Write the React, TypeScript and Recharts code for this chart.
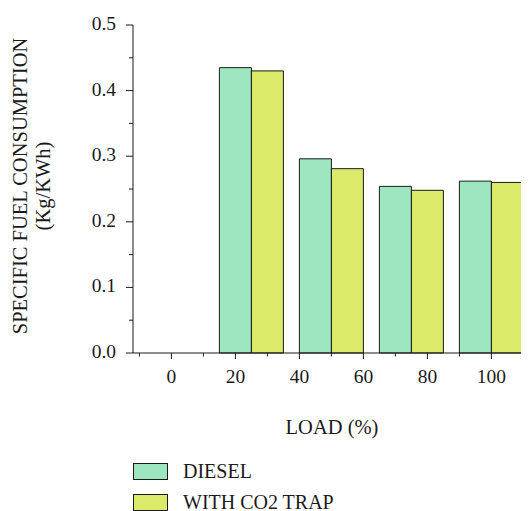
import { BarChart, Bar, XAxis, YAxis, Legend } from "recharts";

const loads = [25, 50, 75, 100];
const diesel = [0.435, 0.296, 0.254, 0.262];
const co2Trap = [0.43, 0.281, 0.248, 0.26];

const xTicks = [-10, 0, 10, 20, 30, 40, 50, 60, 70, 80, 90, 100, 110];
const xLabels = [0, 20, 40, 60, 80, 100];
const yTicks = [0, 0.05, 0.1, 0.15, 0.2, 0.25, 0.3, 0.35, 0.4, 0.45, 0.5];

const seriesNames = ["DIESEL", "WITH CO2 TRAP"];
const seriesColors = ["#9de6bf", "#dbea68"];

const data = loads.map((load, i) => ({ load, diesel: diesel[i], co2: co2Trap[i] }));

const FONT = '"Liberation Serif", "Times New Roman", serif';
const INK = "#1a1a1a";
const W = 521;
const H = 503;
const margin = { top: 17, right: 4, left: 0, bottom: 0 };
const yAxisWidth = 125;
const xDomain: [number, number] = [-12, 110.5];
// each bar is 10 load-units wide on the numeric axis
const plotWidth = W - margin.left - margin.right - yAxisWidth;
const barSize = (plotWidth / (xDomain[1] - xDomain[0])) * 10;

const XTick = ({ x, y, payload }: any) => {
  const v = payload.value;
  const major = xLabels.includes(v);
  return (
    <g>
      <line x1={x} x2={x} y1={y} y2={y + (major ? 6 : 3.5)} stroke={INK} />
      {major && (
        <text x={x} y={y + 30} textAnchor="middle" fontFamily={FONT} fontSize={19.5} fill={INK}>
          {v}
        </text>
      )}
    </g>
  );
};

const YTick = ({ x, y, payload }: any) => {
  const v = payload.value;
  const major = Math.round(v * 100) % 10 === 0;
  return (
    <g>
      <line x1={x} x2={x - (major ? 7 : 4)} y1={y} y2={y} stroke={INK} />
      {major && (
        <text x={x - 17} y={y + 5} textAnchor="end" fontFamily={FONT} fontSize={19.5} fill={INK}>
          {v.toFixed(1)}
        </text>
      )}
    </g>
  );
};

const YTitle = ({ viewBox }: any) => {
  const cy = viewBox.y + viewBox.height / 2 - 3;
  return (
    <g fontFamily={FONT} fontSize={20.5} fill={INK}>
      <text x={19} y={cy} textAnchor="middle" transform={`rotate(-90, 19, ${cy})`}>
        SPECIFIC FUEL CONSUMPTION
      </text>
      <text x={42} y={cy} textAnchor="middle" transform={`rotate(-90, 42, ${cy})`}>
        (Kg/KWh)
      </text>
    </g>
  );
};

const XTitle = ({ viewBox }: any) => (
  <text
    x={viewBox.x + viewBox.width / 2 + 3}
    y={viewBox.y + 81}
    textAnchor="middle"
    fontFamily={FONT}
    fontSize={20.5}
    fill={INK}
  >
    LOAD (%)
  </text>
);

const LegendBox = () => (
  <div style={{ position: "relative", height: 63, fontFamily: FONT, fontSize: 20, color: INK }}>
    {seriesNames.map((name, i) => (
      <div
        key={name}
        style={{ position: "absolute", left: 125, top: 15 + i * 30.5, display: "flex", alignItems: "flex-start" }}
      >
        <span
          style={{
            width: 35,
            height: 17,
            boxSizing: "border-box",
            border: `1.5px solid ${INK}`,
            background: seriesColors[i],
          }}
        />
        <span style={{ marginLeft: 15, lineHeight: "17px", height: 17, whiteSpace: "nowrap" }}>{name}</span>
      </div>
    ))}
  </div>
);

export default function App() {
  return (
    <BarChart width={W} height={H} data={data} margin={margin} barGap={0}>
      <XAxis
        dataKey="load"
        type="number"
        domain={xDomain}
        allowDataOverflow
        ticks={xTicks}
        interval={0}
        tickSize={0}
        tickMargin={0}
        tickLine={false}
        tick={<XTick />}
        axisLine={{ stroke: INK }}
        height={95}
        label={<XTitle />}
      />
      <YAxis
        type="number"
        domain={[0, 0.5]}
        ticks={yTicks}
        interval={0}
        width={yAxisWidth}
        tickSize={0}
        tickMargin={0}
        tickLine={false}
        tick={<YTick />}
        axisLine={{ stroke: INK }}
        label={<YTitle />}
      />
      <Legend verticalAlign="bottom" align="left" height={63} content={<LegendBox />} wrapperStyle={{ left: 0, width: W }} />
      <Bar dataKey="diesel" name={seriesNames[0]} fill={seriesColors[0]} stroke={INK} strokeWidth={1} barSize={barSize} isAnimationActive={false} />
      <Bar dataKey="co2" name={seriesNames[1]} fill={seriesColors[1]} stroke={INK} strokeWidth={1} barSize={barSize} isAnimationActive={false} />
    </BarChart>
  );
}
